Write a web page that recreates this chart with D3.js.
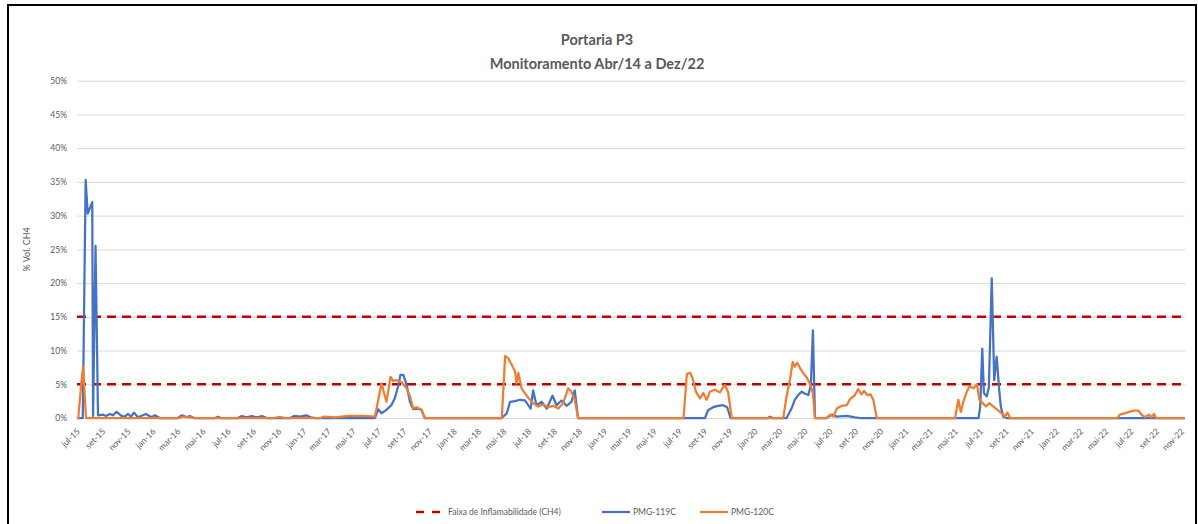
<!DOCTYPE html>
<html>
<head>
<meta charset="utf-8">
<script src="https://cdn.jsdelivr.net/npm/d3@7"></script>
<style>
  body { margin: 0; background: #fff; }
  svg text { font-family: Lato, 'Open Sans', sans-serif; fill: #595959; }
</style>
</head>
<body>
<svg width="1198" height="524"></svg>
<script>
var pmg119c = [
  ['2015-07-01', 0], ['2015-07-15', 0], ['2015-07-22', 35.3], ['2015-07-27', 30.3], ['2015-08-07', 32.0],
  ['2015-08-09', 0.3], ['2015-08-15', 25.5], ['2015-08-21', 0.4], ['2015-09-03', 0.5], ['2015-09-09', 0.3],
  ['2015-09-19', 0.6], ['2015-09-26', 0.4], ['2015-10-05', 0.9], ['2015-10-17', 0.3], ['2015-10-25', 0.2],
  ['2015-11-02', 0.6], ['2015-11-09', 0.2], ['2015-11-16', 0.8], ['2015-11-26', 0.1], ['2015-12-15', 0.6],
  ['2015-12-29', 0.1], ['2016-01-06', 0.4], ['2016-01-18', 0], ['2016-03-02', 0], ['2016-03-12', 0.4],
  ['2016-03-24', 0.1], ['2016-03-31', 0.3], ['2016-04-10', 0], ['2016-05-31', 0], ['2016-06-07', 0.2],
  ['2016-06-14', 0], ['2016-07-25', 0], ['2016-08-04', 0.3], ['2016-08-16', 0.1], ['2016-08-28', 0.3],
  ['2016-09-10', 0.1], ['2016-09-22', 0.3], ['2016-10-04', 0], ['2016-11-29', 0], ['2016-12-09', 0.3],
  ['2016-12-23', 0.2], ['2017-01-07', 0.4], ['2017-01-19', 0.1], ['2017-01-31', 0],
  ['2017-06-23', 0], ['2017-07-01', 1.3], ['2017-07-09', 0.7], ['2017-07-21', 1.2], ['2017-08-02', 1.9],
  ['2017-08-10', 2.9], ['2017-08-18', 4.6], ['2017-08-24', 6.4], ['2017-08-31', 6.4], ['2017-09-08', 4.9],
  ['2017-09-16', 2.4], ['2017-09-24', 1.3], ['2017-10-06', 1.4], ['2017-10-14', 1.2], ['2017-10-22', 0],
  ['2018-04-27', 0], ['2018-05-09', 0.7], ['2018-05-17', 2.4], ['2018-05-29', 2.5], ['2018-06-10', 2.7],
  ['2018-06-22', 2.6], ['2018-07-06', 1.4], ['2018-07-12', 4.1], ['2018-07-20', 1.9], ['2018-08-02', 2.4],
  ['2018-08-14', 1.4], ['2018-08-28', 3.3], ['2018-09-07', 1.9], ['2018-09-19', 2.6], ['2018-10-01', 1.8],
  ['2018-10-13', 2.4], ['2018-10-21', 4.1], ['2018-10-29', 0],
  ['2019-09-02', 0], ['2019-09-10', 1.2], ['2019-09-22', 1.6], ['2019-10-04', 1.8], ['2019-10-16', 1.9],
  ['2019-10-26', 1.6], ['2019-11-03', 0],
  ['2020-02-02', 0], ['2020-02-07', 0.2], ['2020-02-12', 0],
  ['2020-03-18', 0], ['2020-03-30', 1.4], ['2020-04-07', 2.7], ['2020-04-15', 3.4], ['2020-04-24', 3.9],
  ['2020-05-02', 3.6], ['2020-05-10', 3.4], ['2020-05-16', 4.9], ['2020-05-21', 13.0], ['2020-05-26', 0],
  ['2020-06-23', 0], ['2020-07-06', 0.5], ['2020-07-18', 0.2], ['2020-08-11', 0.3], ['2020-08-31', 0.1],
  ['2020-09-12', 0],
  ['2021-06-27', 0], ['2021-07-01', 1.7], ['2021-07-06', 10.3], ['2021-07-10', 3.7], ['2021-07-17', 3.2],
  ['2021-07-22', 4.6], ['2021-07-29', 20.7], ['2021-08-04', 5.6], ['2021-08-10', 9.1], ['2021-08-16', 4.2],
  ['2021-08-20', 1.7], ['2021-08-26', 0.2], ['2021-09-02', 0],
  ['2022-11-10', 0]
];

var pmg120c = [
  ['2015-07-01', 0], ['2015-07-04', 0], ['2015-07-12', 5.5], ['2015-07-16', 7.6], ['2015-07-20', 3.0],
  ['2015-07-23', 0],
  ['2016-03-05', 0], ['2016-03-15', 0.2], ['2016-03-30', 0.1], ['2016-04-15', 0],
  ['2016-10-20', 0], ['2016-11-01', 0.15], ['2016-11-20', 0],
  ['2017-02-10', 0], ['2017-02-20', 0.2], ['2017-03-20', 0.1], ['2017-04-20', 0.3], ['2017-05-25', 0.3],
  ['2017-06-23', 0.2], ['2017-07-09', 5.1], ['2017-07-21', 2.4], ['2017-07-31', 6.1], ['2017-08-06', 5.5],
  ['2017-08-14', 5.6], ['2017-08-27', 5.3], ['2017-09-08', 4.4], ['2017-09-16', 3.2], ['2017-09-24', 1.4],
  ['2017-10-02', 1.6], ['2017-10-14', 1.2], ['2017-10-22', 0],
  ['2018-04-27', 0], ['2018-05-05', 9.2], ['2018-05-13', 8.8], ['2018-05-21', 7.9], ['2018-05-29', 6.9],
  ['2018-06-02', 5.1], ['2018-06-06', 6.7], ['2018-06-14', 4.4], ['2018-06-22', 3.7], ['2018-06-30', 3.0],
  ['2018-07-12', 2.2], ['2018-07-24', 1.7], ['2018-08-05', 2.0], ['2018-08-18', 1.6], ['2018-08-30', 1.8],
  ['2018-09-11', 1.4], ['2018-09-23', 2.2], ['2018-10-05', 4.4], ['2018-10-13', 3.9], ['2018-10-21', 2.8],
  ['2018-10-29', 0],
  ['2019-07-12', 0], ['2019-07-20', 6.5], ['2019-07-28', 6.7], ['2019-08-03', 5.9], ['2019-08-11', 3.9],
  ['2019-08-21', 2.9], ['2019-08-29', 3.7], ['2019-09-06', 2.7], ['2019-09-14', 3.9], ['2019-09-26', 4.2],
  ['2019-10-08', 3.8], ['2019-10-20', 4.9], ['2019-10-28', 3.9], ['2019-11-06', 0],
  ['2020-03-10', 0], ['2020-03-18', 3.2], ['2020-03-26', 5.6], ['2020-04-02', 8.3], ['2020-04-07', 7.6],
  ['2020-04-13', 8.2], ['2020-04-20', 7.4], ['2020-04-28', 6.6], ['2020-05-06', 6.0], ['2020-05-14', 5.1],
  ['2020-05-21', 3.7], ['2020-05-26', 0],
  ['2020-06-23', 0], ['2020-07-02', 0.5], ['2020-07-10', 0.2], ['2020-07-18', 1.4], ['2020-07-30', 1.8],
  ['2020-08-11', 1.9], ['2020-08-19', 2.8], ['2020-08-31', 3.4], ['2020-09-08', 4.3], ['2020-09-16', 3.5],
  ['2020-09-22', 4.0], ['2020-09-30', 3.4], ['2020-10-08', 3.5], ['2020-10-15', 2.6], ['2020-10-23', 0],
  ['2021-05-01', 0], ['2021-05-09', 2.7], ['2021-05-15', 0.9], ['2021-05-21', 2.4], ['2021-05-28', 3.7],
  ['2021-06-05', 4.7], ['2021-06-15', 4.4], ['2021-06-23', 5.0], ['2021-06-29', 2.7], ['2021-07-07', 2.2],
  ['2021-07-15', 1.7], ['2021-07-23', 2.2], ['2021-08-02', 1.7], ['2021-08-12', 1.2], ['2021-08-22', 0.7],
  ['2021-08-30', 0.2], ['2021-09-05', 0.8], ['2021-09-12', 0],
  ['2022-05-30', 0], ['2022-06-05', 0.5], ['2022-06-22', 0.8], ['2022-07-08', 1.1], ['2022-07-20', 1.1],
  ['2022-07-28', 0.45], ['2022-08-05', 0.15], ['2022-08-15', 0.5], ['2022-08-21', 0.1], ['2022-08-27', 0.6],
  ['2022-09-01', 0], ['2022-11-10', 0]
];

var faixa = [5, 15];
var yTicks = [0, 5, 10, 15, 20, 25, 30, 35, 40, 45, 50];
var meses = ['jan', 'fev', 'mar', 'abr', 'mai', 'jun', 'jul', 'ago', 'set', 'out', 'nov', 'dez'];
var titulo = ['Portaria P3', 'Monitoramento Abr/14 a Dez/22'];
var legenda = ['Faixa de Inflamabilidade (CH4)', 'PMG-119C', 'PMG-120C'];

var parse = d3.timeParse('%Y-%m-%d');

var svg = d3.select('svg'),
    plotL = 77, plotR = 1185, plotT = 80.7, plotB = 418;

svg.append('rect')
  .attr('x', 8).attr('y', 5)
  .attr('width', 1188).attr('height', 540)
  .attr('fill', 'none')
  .attr('stroke', '#000')
  .attr('stroke-width', 2);

var x = d3.scaleTime()
      .domain([parse('2015-07-01'), parse('2022-11-10')])
      .range([plotL, plotR]),
    y = d3.scaleLinear()
      .domain([0, 50])
      .range([plotB, plotT]);

// grid + y labels
var gy = svg.append('g')
  .attr('transform', 'translate(' + plotL + ',0)')
  .call(d3.axisLeft(y)
    .tickValues(yTicks)
    .tickSize(-(plotR - plotL))
    .tickPadding(10)
    .tickFormat(function(d) { return d + '%'; }));
gy.select('.domain').remove();
gy.selectAll('line').attr('stroke', '#d9d9d9');
gy.selectAll('text').style('font-size', '8.5px');

var gx = svg.append('g')
  .attr('transform', 'translate(0,' + plotB + ')')
  .call(d3.axisBottom(x)
    .ticks(d3.timeMonth.every(2))
    .tickSize(0)
    .tickFormat(function(d) { return meses[d.getMonth()] + '-' + String(d.getFullYear()).slice(2); }));
gx.select('.domain').attr('stroke', '#d9d9d9');
gx.selectAll('text')
  .style('font-size', '8.5px')
  .attr('text-anchor', 'end')
  .attr('dy', null)
  .attr('y', 0)
  .attr('transform', 'translate(3,14) rotate(-45)');

svg.append('text')
  .attr('transform', 'translate(30,' + ((plotT + plotB) / 2) + ') rotate(-90)')
  .attr('text-anchor', 'middle')
  .style('font-size', '9px')
  .text('% Vol. CH4');

svg.selectAll('.titulo')
  .data(titulo)
  .enter()
  .append('text')
  .attr('class', 'titulo')
  .attr('x', 597)
  .attr('y', function(d, i) { return 45 + i * 24; })
  .attr('text-anchor', 'middle')
  .style('font-size', '14.5px')
  .style('font-weight', 700)
  .text(function(d) { return d; });

svg.selectAll('.faixa')
  .data(faixa)
  .enter()
  .append('line')
  .attr('class', 'faixa')
  .attr('x1', plotL).attr('x2', plotR)
  .attr('y1', function(d) { return y(d); })
  .attr('y2', function(d) { return y(d); })
  .attr('stroke', '#c00000')
  .attr('stroke-width', 2.5)
  .attr('stroke-dasharray', '9,6');

var line = d3.line()
  .x(function(d) { return x(parse(d[0])); })
  .y(function(d) { return y(d[1]); });

svg.append('path')
  .datum(pmg119c)
  .attr('d', line)
  .attr('fill', 'none')
  .attr('stroke', '#4472c4')
  .attr('stroke-width', 2.25)
  .attr('stroke-linejoin', 'round');

svg.append('path')
  .datum(pmg120c)
  .attr('d', line)
  .attr('fill', 'none')
  .attr('stroke', '#ed7d31')
  .attr('stroke-width', 2.25)
  .attr('stroke-linejoin', 'round');

// legend
var legX = [416, 602, 700],
    legCor = ['#c00000', '#4472c4', '#ed7d31'];
var leg = svg.selectAll('.leg')
  .data(legenda)
  .enter()
  .append('g')
  .attr('class', 'leg')
  .attr('transform', function(d, i) { return 'translate(' + legX[i] + ',512)'; });
leg.append('line')
  .attr('x1', 0).attr('x2', function(d, i) { return i === 0 ? 24 : 28; })
  .attr('stroke', function(d, i) { return legCor[i]; })
  .attr('stroke-width', function(d, i) { return i === 0 ? 2.5 : 2.25; })
  .attr('stroke-dasharray', function(d, i) { return i === 0 ? '8,8' : null; });
leg.append('text')
  .attr('x', function(d, i) { return i === 0 ? 32 : 31; })
  .attr('dy', '0.35em')
  .style('font-size', '8.5px')
  .text(function(d) { return d; });
</script>
</body>
</html>
